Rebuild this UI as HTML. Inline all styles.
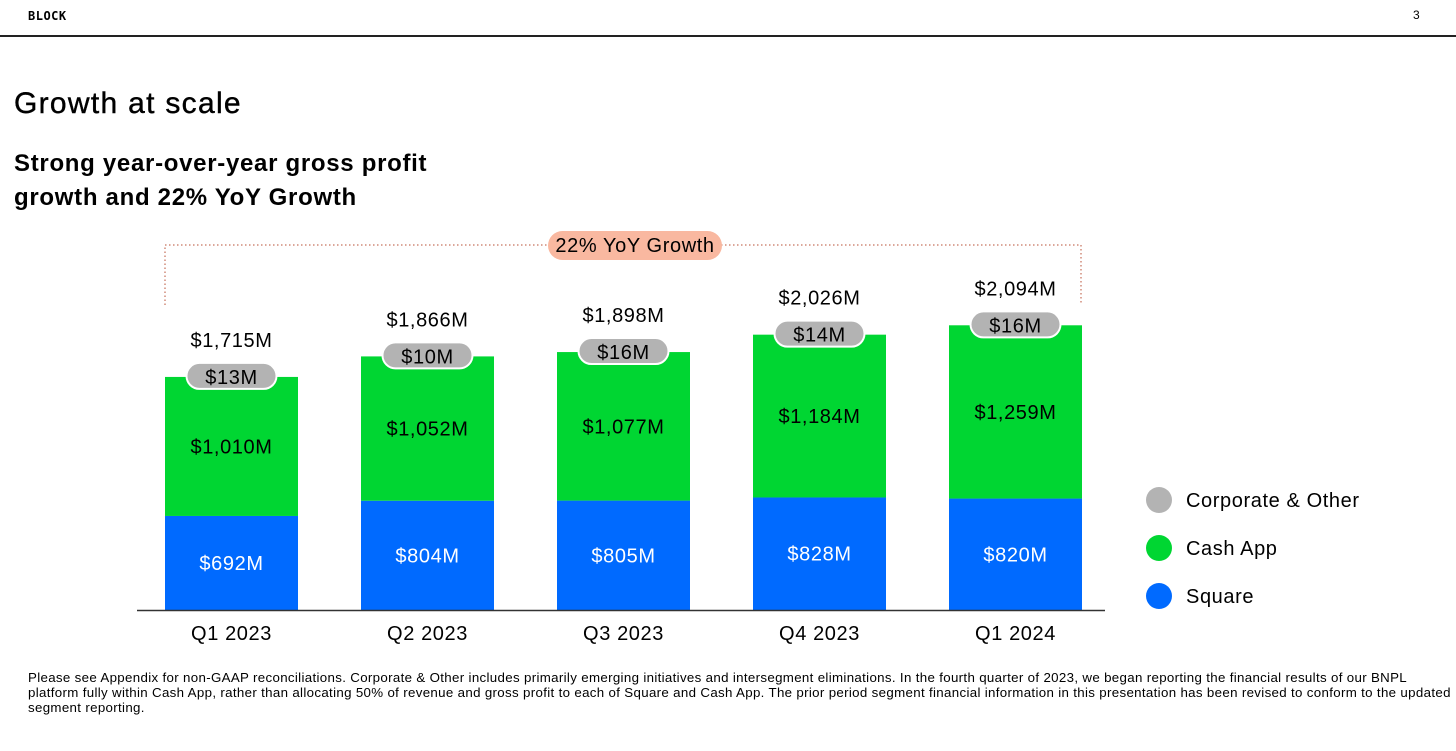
<!DOCTYPE html>
<html><head><meta charset="utf-8"><style>
body{margin:0;width:1456px;height:751px;background:#fff;overflow:hidden;font-family:"Liberation Sans",sans-serif;position:relative}
.abs{position:absolute}
</style></head><body>
<div class="abs" style="left:28px;top:9px;font-size:12px;font-family:'DejaVu Sans Mono','Liberation Mono',monospace;font-weight:bold;letter-spacing:0.5px">BLOCK</div>
<div class="abs" style="left:1413px;top:8px;font-size:12px">3</div>
<div class="abs" style="left:0;top:35px;width:1456px;height:2px;background:#222"></div>
<div class="abs" style="left:14px;top:87px;font-size:30px;letter-spacing:1.3px;color:#000;-webkit-text-stroke:0.4px #000">Growth at scale</div>
<div class="abs" style="left:14px;top:147px;font-size:24px;font-weight:bold;letter-spacing:0.7px;line-height:34px;color:#000">Strong year-over-year gross profit<br>growth and 22% YoY Growth</div>
<svg class="abs" style="left:0;top:0" width="1456" height="751" id="chart"></svg>
<div class="abs" style="left:28px;top:670px;white-space:nowrap;font-size:13.3px;letter-spacing:0.33px;line-height:15px;color:#000">Please see Appendix for non-GAAP reconciliations. Corporate &amp; Other includes primarily emerging initiatives and intersegment eliminations. In the fourth quarter of 2023, we began reporting the financial results of our BNPL<br>platform fully within Cash App, rather than allocating 50% of revenue and gross profit to each of Square and Cash App. The prior period segment financial information in this presentation has been revised to conform to the updated<br>segment reporting.</div>
<script>
const categories=["Q1 2023","Q2 2023","Q3 2023","Q4 2023","Q1 2024"];
const square=[692,804,805,828,820];
const cashApp=[1010,1052,1077,1184,1259];
const corporate=[13,10,16,14,16];
const totals=[1715,1866,1898,2026,2094];
const NS="http://www.w3.org/2000/svg";
const svg=document.getElementById('chart');
const baseY=610,scale=0.1359,x0=165,step=196,bw=133;
const y=v=>baseY-v*scale;
const xb=i=>x0+i*step;
function mk(t,a,p){const e=document.createElementNS(NS,t);for(const k in a)e.setAttribute(k,a[k]);(p||svg).appendChild(e);return e;}
function fmt(v){return "$"+v.toLocaleString("en-US")+"M";}
const TS={'font-size':20,'letter-spacing':0.6};
function txt(a,s){return mk('text',Object.assign({},TS,a));}
categories.forEach((c,i)=>{
  const x=xb(i),cx=x+bw/2;
  const s=mk('rect',{x:x,y:y(square[i]),width:bw,height:square[i]*scale,fill:'#006aff'});
  
  
  const g=mk('rect',{x:x,y:y(square[i]+cashApp[i]+corporate[i]),width:bw,height:(cashApp[i]+corporate[i])*scale,fill:'#00d632'});
  
  
  const top=y(totals[i]);
  const p=mk('rect',{x:cx-45,y:top-14,width:90,height:26,rx:13,fill:'#b3b3b3',stroke:'#fff','stroke-width':2});
  
  
  const t1=txt({x:cx,y:top+7,'text-anchor':'middle',fill:'#000'});t1.textContent=fmt(corporate[i]);
  
  
  const t2=txt({x:cx,y:top-30,'text-anchor':'middle',fill:'#000'});t2.textContent=fmt(totals[i]);
  
  
  const t3=txt({x:cx,y:(y(square[i])+top)/2+7,'text-anchor':'middle',fill:'#000'});t3.textContent=fmt(cashApp[i]);
  
  
  const t4=txt({x:cx,y:(y(square[i])+baseY)/2+7,'text-anchor':'middle',fill:'#fff'});t4.textContent=fmt(square[i]);
  
  
  const t5=txt({x:cx,y:640,'text-anchor':'middle',fill:'#000'});t5.textContent=c;
  
  
});
const ax=mk('line',{x1:137,y1:610.5,x2:1105,y2:610.5,stroke:'#333','stroke-width':1.5});


const br=mk('path',{d:'M165 305 V245 H1081 V305',fill:'none',stroke:'#d08a78','stroke-width':1.5,'stroke-dasharray':'1.5 2.5'});


const gp=mk('rect',{x:548,y:231,width:174,height:29,rx:14.5,fill:'#f9b8a0'});


const gt=txt({x:635,y:252,'text-anchor':'middle',fill:'#000'});gt.textContent='22% YoY Growth';


const legend=[["Corporate & Other","#b3b3b3",500],["Cash App","#00d632",548],["Square","#006aff",596]];
legend.forEach((l,i)=>{
  const c=mk('circle',{cx:1159,cy:l[2],r:13,fill:l[1]});
  
  
  const t=txt({x:1186,y:l[2]+7,fill:'#000'});t.textContent=l[0];
  
  
});
</script>
</body></html>
